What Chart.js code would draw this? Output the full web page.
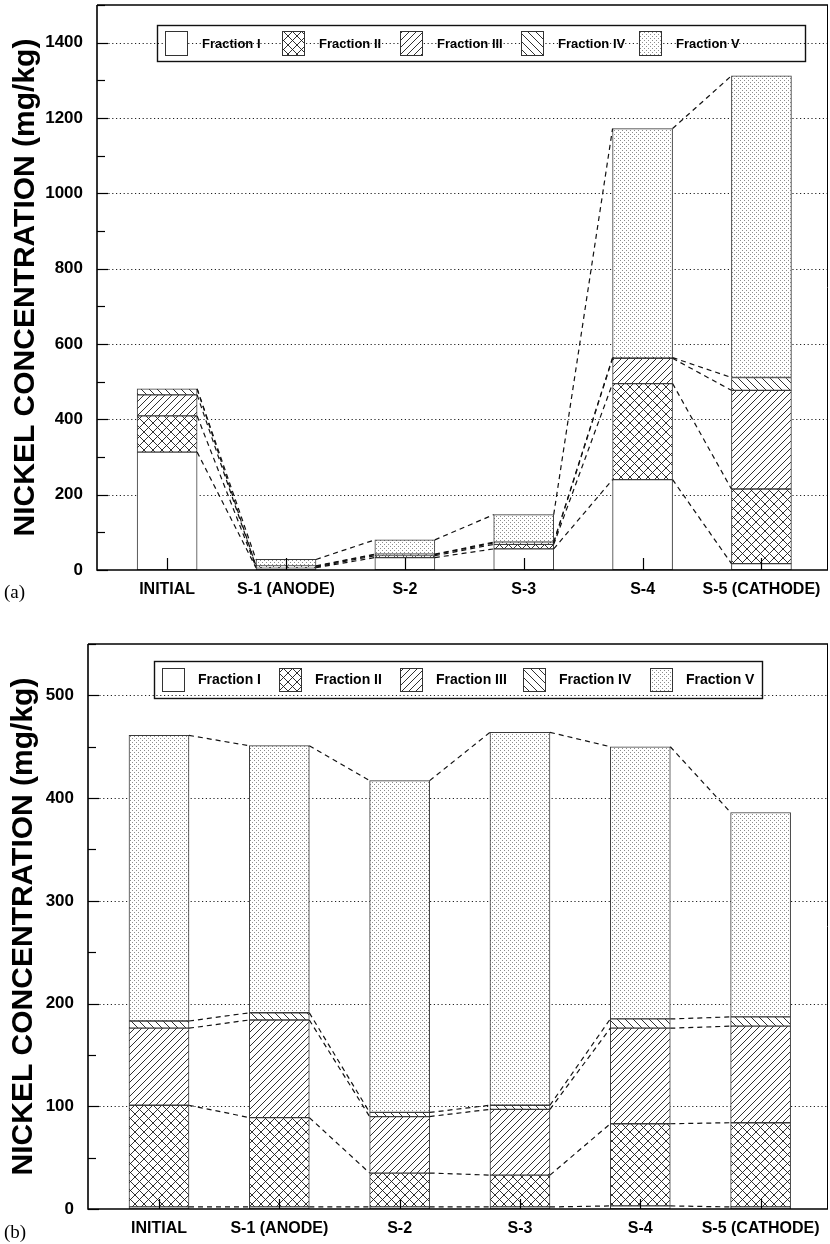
<!DOCTYPE html>
<html><head><meta charset="utf-8">
<script src="https://cdn.jsdelivr.net/npm/chart.js@4.4.0/dist/chart.umd.min.js"></script>
<style>
html,body{margin:0;padding:0;background:#fff;width:830px;height:1244px;overflow:hidden;position:relative}
#wa{position:absolute;left:0;top:0;width:830px;height:610px}
#wb{position:absolute;left:0;top:610px;width:830px;height:634px}
.lab{position:absolute;font-family:"Liberation Serif","DejaVu Serif",serif;font-size:19px;color:#000;line-height:20px}
</style></head><body>
<div id="wa"><canvas id="ca" width="830" height="610"></canvas></div>
<div id="wb"><canvas id="cb" width="830" height="634"></canvas></div>
<div class="lab" style="left:4px;top:582px">(a)</div>
<div class="lab" style="left:4px;top:1222px">(b)</div>
<script>
// ---------- data ----------
const categories = ["INITIAL", "S-1 (ANODE)", "S-2", "S-3", "S-4", "S-5 (CATHODE)"];
const fractionLabels = ["Fraction I", "Fraction II", "Fraction III", "Fraction IV", "Fraction V"];

// (a)
const a_fractionI   = [313, 6, 33, 56, 240, 17];
const a_fractionII  = [96, 2, 5, 12, 255, 198];
const a_fractionIII = [56, 2, 3, 4, 67, 262];
const a_fractionIV  = [16, 1, 1, 2, 2, 34];
const a_fractionV   = [0, 17, 38, 73, 608, 801];
const a_yTicks = [0, 200, 400, 600, 800, 1000, 1200, 1400];

// (b)
const b_fractionI   = [2, 2, 2, 2, 3, 2];
const b_fractionII  = [99, 87, 33, 31, 80, 82];
const b_fractionIII = [75, 95, 55, 64, 93, 94];
const b_fractionIV  = [7, 7, 4, 4, 9, 9];
const b_fractionV   = [278, 260, 323, 363, 265, 199];
const b_yTicks = [0, 100, 200, 300, 400, 500];

const FONT = '"Liberation Sans", Arial, Helvetica, sans-serif';

// ---------- patterns ----------
function tile(s, draw){
  const c = document.createElement('canvas'); c.width = s; c.height = s;
  const g = c.getContext('2d'); g.fillStyle = '#fff'; g.fillRect(0,0,s,s);
  draw(g, s);
  return document.createElement('canvas').getContext('2d').createPattern(c, 'repeat');
}
const patterns = [
  '#ffffff',
  tile(9, (g,s)=>{ g.strokeStyle='#1a1a1a'; g.lineWidth=0.9;
    g.beginPath(); g.moveTo(-1,-1); g.lineTo(s+1,s+1); g.moveTo(-1,s+1); g.lineTo(s+1,-1); g.stroke(); }),
  tile(7, (g,s)=>{ g.strokeStyle='#1a1a1a'; g.lineWidth=0.9;
    g.beginPath(); g.moveTo(-1,s+1); g.lineTo(s+1,-1); g.moveTo(-1,1); g.lineTo(1,-1); g.moveTo(s-1,s+1); g.lineTo(s+1,s-1); g.stroke(); }),
  tile(8, (g,s)=>{ g.strokeStyle='#1a1a1a'; g.lineWidth=0.9;
    g.beginPath(); g.moveTo(-1,-1); g.lineTo(s+1,s+1); g.moveTo(-1,s-1); g.lineTo(1,s+1); g.moveTo(s-1,-1); g.lineTo(s+1,1); g.stroke(); }),
  tile(4, (g,s)=>{ g.fillStyle='#8c8c8c'; g.fillRect(0,0,1,1); g.fillRect(2,2,1,1); })
];

// ---------- decoration plugin ----------
const decor = {
  id: 'decor',
  beforeDatasetsDraw(chart, args, o){
    const {ctx, chartArea:a} = chart; const y = chart.scales.y;
    ctx.save(); ctx.strokeStyle = '#222'; ctx.lineWidth = 1; ctx.setLineDash([1.2, 2.6]);
    o.gridValues.forEach(v => {
      const py = Math.round(y.getPixelForValue(v)) + 0.5;
      ctx.beginPath(); ctx.moveTo(a.left, py); ctx.lineTo(a.right, py); ctx.stroke();
    });
    ctx.restore();
  },
  afterDatasetsDraw(chart, args, o){
    const {ctx, chartArea:a} = chart; const y = chart.scales.y, x = chart.scales.x;
    ctx.save();
    // connectors between stacked segment tops
    ctx.strokeStyle = '#111'; ctx.lineWidth = 1.2; ctx.setLineDash([5, 4]);
    chart.data.datasets.forEach((ds, d) => {
      const els = chart.getDatasetMeta(d).data;
      for (let i = 0; i < els.length - 1; i++){
        const p = els[i].getProps(['x','y','width'], true);
        const q = els[i+1].getProps(['x','y','width'], true);
        ctx.beginPath(); ctx.moveTo(p.x + p.width/2, p.y); ctx.lineTo(q.x - q.width/2, q.y); ctx.stroke();
      }
    });
    ctx.setLineDash([]);
    // inward y ticks
    ctx.strokeStyle = '#000'; ctx.lineWidth = 1.2;
    for (let v = y.min; v <= y.max + 1e-9; v += o.minorStep){
      const py = Math.round(y.getPixelForValue(v)) + 0.5;
      const len = (v % o.majorStep === 0) ? 11 : 8;
      ctx.beginPath(); ctx.moveTo(a.left, py); ctx.lineTo(a.left + len, py); ctx.stroke();
    }
    // centre tick marks on x axis
    categories.forEach((c, i) => {
      const px = Math.round(x.getPixelForValue(i + 1)) + 0.5;
      ctx.beginPath(); ctx.moveTo(px, a.bottom); ctx.lineTo(px, a.bottom - o.centerTick); ctx.stroke();
    });
    // frame
    ctx.lineWidth = 1.6; ctx.strokeStyle = '#000';
    ctx.beginPath(); ctx.moveTo(a.left, a.top); ctx.lineTo(a.left, a.bottom); ctx.lineTo(a.right, a.bottom); ctx.stroke();
    ctx.beginPath(); ctx.moveTo(a.left, a.top); ctx.lineTo(a.right, a.top); ctx.stroke();
    ctx.lineWidth = 1; ctx.beginPath(); ctx.moveTo(a.right - 0.5, a.top); ctx.lineTo(a.right - 0.5, a.bottom); ctx.stroke();
    // legend
    const L = o.legend;
    ctx.lineWidth = 1.4; ctx.strokeStyle = '#111';
    ctx.strokeRect(L.x + 0.5, L.y + 0.5, L.w, L.h);
    ctx.font = 'bold ' + L.fontSize + 'px ' + FONT;
    ctx.textBaseline = 'middle';
    chart.data.datasets.forEach((ds, k) => {
      const sx = L.swatchX[k];
      ctx.fillStyle = ds.backgroundColor; ctx.fillRect(sx, L.swatchY, L.swW, L.swH);
      ctx.strokeStyle = '#333'; ctx.lineWidth = 1; ctx.strokeRect(sx + 0.5, L.swatchY + 0.5, L.swW, L.swH);
      ctx.fillStyle = '#000'; ctx.fillText(ds.label, sx + L.textGap, L.y + L.h/2 + 1);
    });
    ctx.restore();
  }
};

function buildChart(id, series, yTicks, cfg){
  const datasets = series.map((vals, k) => ({
    label: fractionLabels[k],
    data: vals.map((v, i) => ({x: i + 1, y: v})),
    backgroundColor: patterns[k],
    borderColor: '#3a3a3a',
    borderWidth: 1,
    borderSkipped: false,
    barThickness: 60
  }));
  return new Chart(document.getElementById(id), {
    type: 'bar',
    data: { datasets },
    plugins: [decor],
    options: {
      responsive: false, animation: false,
      layout: { padding: { top: cfg.padTop, right: 2, left: 0, bottom: 0 } },
      plugins: {
        legend: { display: false }, tooltip: { enabled: false },
        decor: cfg.decor
      },
      scales: {
        x: {
          type: 'linear', min: 0.41, max: 6.56, stacked: true, offset: false,
          afterBuildTicks: s => { s.ticks = categories.map((c, i) => ({ value: i + 1 })); },
          afterFit: s => { s.height = cfg.xHeight; s.paddingLeft = 0; s.paddingRight = 0; },
          ticks: { callback: (v) => categories[Math.round(v) - 1] || '', autoSkip: false, maxRotation: 0, minRotation: 0,
                   color: '#000', padding: cfg.xPad, font: { family: FONT, size: 16, weight: 'bold' } },
          grid: { display: false, drawTicks: false, offset: false }, border: { display: false }
        },
        y: {
          type: 'linear', min: 0, max: cfg.yMax, stacked: true,
          afterBuildTicks: s => { s.ticks = yTicks.map(v => ({ value: v })); },
          afterFit: s => { s.width = cfg.yWidth; s.paddingTop = 0; s.paddingBottom = 0; },
          ticks: { callback: (v) => String(v), color: '#000', padding: cfg.yPad, font: { family: FONT, size: 17, weight: 'bold' } },
          grid: { display: false, drawTicks: false }, border: { display: false },
          title: { display: true, text: 'NICKEL CONCENTRATION (mg/kg)', color: '#000',
                   font: { family: FONT, size: 30, weight: 'bold' }, padding: { top: cfg.titlePad, bottom: 0 } }
        }
      }
    }
  });
}

buildChart('ca', [a_fractionI, a_fractionII, a_fractionIII, a_fractionIV, a_fractionV], a_yTicks, {
  padTop: 5, xHeight: 40, yWidth: 97, xPad: 10, yPad: 14, titlePad: 8, yMax: 1500,
  decor: { gridValues: a_yTicks.slice(1), minorStep: 100, majorStep: 200, centerTick: 12,
    legend: { x: 157, y: 25, w: 648, h: 36, swatchX: [165, 282, 400, 521, 639], swatchY: 31, swW: 22, swH: 24, textGap: 37, fontSize: 13 } }
});
buildChart('cb', [b_fractionI, b_fractionII, b_fractionIII, b_fractionIV, b_fractionV], b_yTicks, {
  padTop: 34, xHeight: 35, yWidth: 88, xPad: 10, yPad: 14, titlePad: 6, yMax: 550,
  decor: { gridValues: b_yTicks.slice(1), minorStep: 50, majorStep: 100, centerTick: 10,
    legend: { x: 154, y: 51, w: 608, h: 37, swatchX: [162, 279, 400, 523, 650], swatchY: 58, swW: 22, swH: 23, textGap: 36, fontSize: 14 } }
});
</script>
</body></html>
